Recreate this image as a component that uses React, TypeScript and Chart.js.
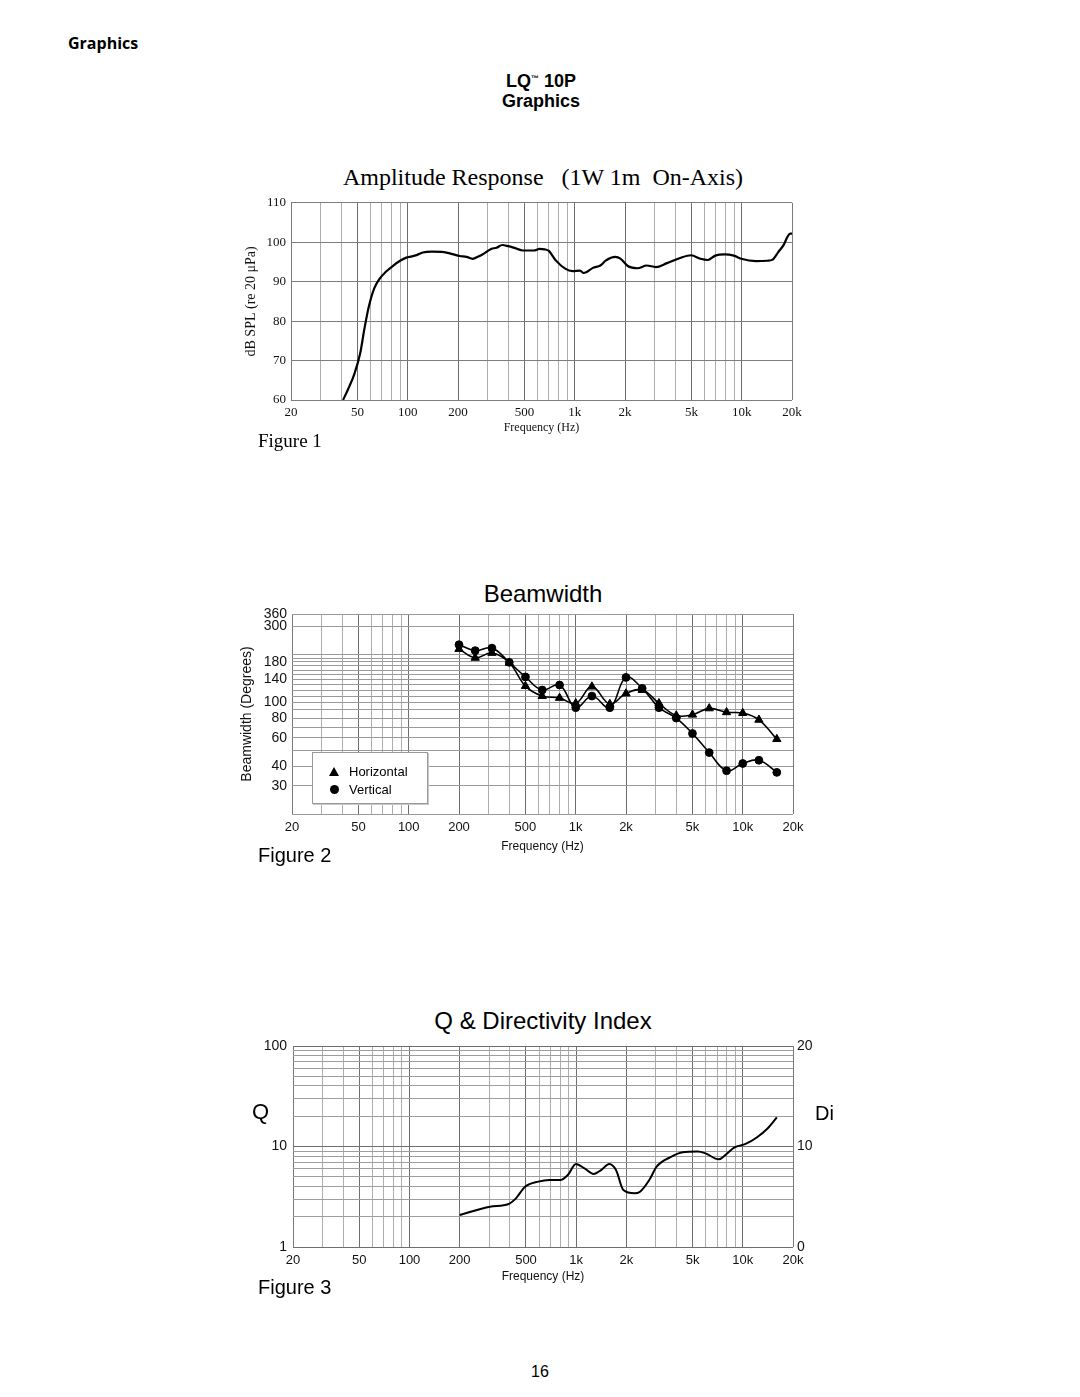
import React, { useEffect, useRef } from "react";
import { Chart, registerables } from "chart.js";

Chart.register(...registerables);

// ---------- shared frequency axis ----------
const freqTickValues = [20, 50, 100, 200, 500, 1000, 2000, 5000, 10000, 20000];
const freqTickLabels = ["20", "50", "100", "200", "500", "1k", "2k", "5k", "10k", "20k"];
const freqGridValues: number[] = [];
for (const d of [10, 100, 1000, 10000]) {
  for (let m = 1; m <= 9; m++) {
    const v = d * m;
    if (v >= 20 && v <= 20000) freqGridValues.push(v);
  }
}

// ---------- Figure 1: amplitude response ----------
const ampFreq = [41, 44, 48, 52, 55, 58.5, 63, 68, 74, 82, 90, 98, 106, 114, 123, 140, 165, 185, 205, 225, 245, 265, 280, 316, 340, 368, 400, 440, 490, 570, 615, 660, 700, 770, 877, 971, 1076, 1130, 1161, 1286, 1424, 1538, 1747, 1886, 2090, 2374, 2698, 3064, 3570, 4272, 4980, 5660, 6266, 6940, 7890, 8960, 9930, 12180, 14200, 15320, 16550, 17870, 18800, 19500, 20000];
const ampSpl = [60, 62.8, 66.7, 72, 78, 83.7, 88.3, 90.8, 92.5, 94.1, 95.3, 96.1, 96.4, 96.8, 97.4, 97.6, 97.5, 97, 96.5, 96.3, 95.8, 96.4, 96.9, 98.3, 98.6, 99.3, 99, 98.5, 97.9, 97.9, 98.3, 98.2, 97.8, 95.4, 93.3, 92.7, 92.8, 92.2, 92.3, 93.5, 94.1, 95.4, 96.3, 95.8, 93.9, 93.4, 94.1, 93.7, 94.7, 96, 96.7, 95.8, 95.5, 96.6, 96.9, 96.6, 95.8, 95.2, 95.3, 95.6, 97.5, 99.4, 101.4, 102.2, 102.2];
const splMin = 60;
const splMax = 110;

// ---------- Figure 2: beamwidth ----------
const bwFreq = [200, 250, 315, 400, 500, 630, 800, 1000, 1250, 1600, 2000, 2500, 3150, 4000, 5000, 6300, 8000, 10000, 12500, 16000];
const bwHorizontal = [217, 191, 205, 178, 127, 110, 107, 99, 126, 98, 114, 120, 99, 83, 84, 92, 87, 86, 78, 59];
const bwVertical = [231, 212, 220, 179, 145, 120, 129, 93, 110, 93, 144, 123, 93, 80, 64, 48.6, 37.4, 41.5, 43.5, 36.5];
const bwGridValues = [20, 30, 40, 50, 60, 70, 80, 90, 100, 110, 120, 130, 140, 150, 160, 170, 180, 190, 200, 300, 360];
const bwTickLabels = [360, 300, 180, 140, 100, 80, 60, 40, 30];

// ---------- Figure 3: Q & Di ----------
const qFreq = [200, 304, 393, 435, 494, 592, 690, 804, 891, 997, 1122, 1274, 1412, 1580, 1734, 1920, 2240, 2417, 2746, 3040, 3733, 4353, 5346, 5920, 7190, 7840, 8910, 10390, 12120, 14120, 16000];
const qValues = [2.08, 2.52, 2.68, 3.05, 3.98, 4.47, 4.64, 4.64, 5.2, 6.7, 6.06, 5.33, 5.83, 6.7, 5.83, 3.69, 3.42, 3.55, 4.64, 6.3, 7.93, 8.76, 8.9, 8.6, 7.45, 8.2, 9.8, 10.6, 12.3, 15.2, 19.5];
const qGridValues = [1, 2, 3, 4, 5, 6, 7, 8, 9, 10, 20, 30, 40, 50, 60, 70, 80, 90, 100];
const qTickLabels = [1, 10, 100];
const diMin = 0;
const diMax = 20;

const SERIF = '"Liberation Serif", "Times New Roman", serif';
const SANS = '"Liberation Sans", Arial, Helvetica, sans-serif';

function freqGridColor(v: number | undefined): string {
  if (v === undefined) return "#999";
  if (v === 20 || v === 20000) return "#7a7a7a";
  const m = Math.round(v / Math.pow(10, Math.floor(Math.log10(v) + 1e-9)));
  return m === 1 || m === 2 || m === 5 ? "#6e6e6e" : "#adadad";
}

function freqAxis(o: { font: any; padding: number; height: number; titleFont: any; titlePad: number }) {
  return {
    type: "logarithmic",
    position: "bottom",
    min: 20,
    max: 20000,
    afterBuildTicks: (s: any) => {
      s.ticks = freqGridValues.map((v) => ({ value: v }));
    },
    afterFit: (s: any) => {
      s.height = o.height;
    },
    ticks: {
      autoSkip: false,
      maxRotation: 0,
      minRotation: 0,
      padding: o.padding,
      color: "#111",
      font: o.font,
      callback: (v: any) => {
        const i = freqTickValues.indexOf(Number(v));
        return i >= 0 ? freqTickLabels[i] : "";
      },
    },
    grid: { drawTicks: false, color: (c: any) => freqGridColor(c.tick?.value), lineWidth: 1 },
    border: { display: false },
    title: { display: true, text: "Frequency (Hz)", color: "#111", font: o.titleFont, padding: { top: 0, bottom: o.titlePad } },
  };
}

function ChartCanvas({ left, top, width, height, make }: { left: number; top: number; width: number; height: number; make: () => any }) {
  const ref = useRef<HTMLCanvasElement | null>(null);
  useEffect(() => {
    const chart = new Chart(ref.current as HTMLCanvasElement, make());
    return () => chart.destroy();
  }, []);
  return (
    <canvas
      ref={ref}
      width={width}
      height={height}
      style={{ position: "absolute", left, top, width, height }}
    />
  );
}

const baseOptions = {
  responsive: false,
  animation: false,
  devicePixelRatio: 1,
  events: [],
  plugins: { legend: { display: false }, tooltip: { enabled: false }, title: { display: false } },
};

function makeAmplitude() {
  return {
    type: "line",
    data: {
      datasets: [
        {
          data: ampFreq.map((f, i) => ({ x: f, y: ampSpl[i] })),
          borderColor: "#000",
          borderWidth: 2.2,
          pointRadius: 0,
          cubicInterpolationMode: "monotone",
          fill: false,
        },
      ],
    },
    options: {
      ...baseOptions,
      layout: { autoPadding: false, padding: { left: 0, top: 11, right: 33, bottom: 0 } },
      scales: {
        x: freqAxis({
          font: { family: SERIF, size: 13 },
          padding: 5,
          height: 40,
          titleFont: { family: SERIF, size: 12 },
          titlePad: 4.8,
        }),
        y: {
          type: "linear",
          position: "left",
          min: splMin,
          max: splMax,
          afterFit: (s: any) => {
            s.width = 66;
          },
          ticks: { stepSize: 10, padding: 5, color: "#111", font: { family: SERIF, size: 13 } },
          grid: { drawTicks: false, color: "#7d7d7d", lineWidth: 1 },
          border: { display: false },
          title: {
            display: true,
            text: "dB SPL (re 20 \u03BCPa)",
            color: "#111",
            font: { family: SERIF, size: 14 },
            padding: { top: 18, bottom: 0 },
          },
        },
      },
    },
  };
}

function makeBeamwidth() {
  return {
    type: "line",
    data: {
      datasets: [
        {
          label: "Horizontal",
          data: bwFreq.map((f, i) => ({ x: f, y: bwHorizontal[i] })),
          borderColor: "#000",
          backgroundColor: "#000",
          borderWidth: 1.6,
          pointStyle: "triangle",
          pointRadius: 4.8,
          pointBorderWidth: 1,
          tension: 0.4,
          fill: false,
        },
        {
          label: "Vertical",
          data: bwFreq.map((f, i) => ({ x: f, y: bwVertical[i] })),
          borderColor: "#000",
          backgroundColor: "#000",
          borderWidth: 1.6,
          pointStyle: "circle",
          pointRadius: 3.9,
          pointBorderWidth: 1,
          tension: 0.4,
          fill: false,
        },
      ],
    },
    options: {
      ...baseOptions,
      layout: { autoPadding: false, padding: { left: 0, top: 14, right: 32, bottom: 0 } },
      scales: {
        x: freqAxis({
          font: { family: SANS, size: 13 },
          padding: 5.5,
          height: 41,
          titleFont: { family: SANS, size: 12 },
          titlePad: 1.5,
        }),
        y: {
          type: "logarithmic",
          position: "left",
          min: 20,
          max: 360,
          afterBuildTicks: (s: any) => {
            s.ticks = bwGridValues.map((v) => ({ value: v }));
          },
          afterFit: (s: any) => {
            s.width = 67;
          },
          ticks: {
            autoSkip: false,
            padding: 5,
            color: "#111",
            font: { family: SANS, size: 14 },
            callback: (v: any) => (bwTickLabels.indexOf(Number(v)) >= 0 ? String(v) : ""),
          },
          grid: { drawTicks: false, color: "#9a9a9a", lineWidth: 1 },
          border: { display: false },
          title: {
            display: true,
            text: "Beamwidth (Degrees)",
            color: "#111",
            font: { family: SANS, size: 14 },
            padding: { top: 13.5, bottom: 0 },
          },
        },
      },
    },
  };
}

function makeQ() {
  return {
    type: "line",
    data: {
      datasets: [
        {
          data: qFreq.map((f, i) => ({ x: f, y: qValues[i] })),
          borderColor: "#000",
          borderWidth: 2,
          pointRadius: 0,
          cubicInterpolationMode: "monotone",
          fill: false,
          yAxisID: "y",
        },
      ],
    },
    options: {
      ...baseOptions,
      layout: { autoPadding: false, padding: { left: 0, top: 16, right: 22, bottom: 0 } },
      scales: {
        x: freqAxis({
          font: { family: SANS, size: 13 },
          padding: 5.2,
          height: 38,
          titleFont: { family: SANS, size: 12 },
          titlePad: 0.8,
        }),
        y: {
          type: "logarithmic",
          position: "left",
          min: 1,
          max: 100,
          afterBuildTicks: (s: any) => {
            s.ticks = qGridValues.map((v) => ({ value: v }));
          },
          afterFit: (s: any) => {
            s.width = 68;
          },
          ticks: {
            autoSkip: false,
            padding: 6,
            color: "#111",
            font: { family: SANS, size: 14 },
            callback: (v: any) => (qTickLabels.indexOf(Number(v)) >= 0 ? String(v) : ""),
          },
          grid: {
            drawTicks: false,
            color: (c: any) => (c.tick && (c.tick.value === 10 || c.tick.value === 1 || c.tick.value === 100) ? "#6e6e6e" : "#9d9d9d"),
            lineWidth: 1,
          },
          border: { display: false },
        },
        y2: {
          type: "linear",
          position: "right",
          min: diMin,
          max: diMax,
          afterFit: (s: any) => {
            s.width = 30;
          },
          ticks: { stepSize: 10, padding: 4, color: "#111", font: { family: SANS, size: 14 } },
          grid: { display: false, drawTicks: false },
          border: { display: false },
        },
      },
    },
  };
}

function Txt({ x, y, size, family, weight, align, children }: any) {
  const a = align || "left";
  const w = 700;
  const left = a === "center" ? x - w / 2 : x;
  return (
    <div
      style={{
        position: "absolute",
        left,
        top: y - size / 2,
        width: w,
        textAlign: a,
        fontFamily: family,
        fontWeight: weight || 400,
        fontSize: size,
        lineHeight: `${size}px`,
        whiteSpace: "pre",
        color: "#000",
      }}
    >
      {children}
    </div>
  );
}

export default function App() {
  return (
    <div style={{ position: "absolute", left: 0, top: 0, width: 1080, height: 1397, background: "#fff", overflow: "hidden" }}>
      <Txt x={68} y={43} size={16} family='"Open Sans", sans-serif' weight={700}>Graphics</Txt>
      <Txt x={541} y={81} size={18} family={SANS} weight={700} align="center">
        LQ<span style={{ fontSize: 8, position: "relative", top: -6 }}>™</span> 10P
      </Txt>
      <Txt x={541} y={101} size={18} family={SANS} weight={700} align="center">Graphics</Txt>

      <Txt x={543} y={177} size={24} family={SERIF} align="center">{"Amplitude Response   (1W 1m  On-Axis)"}</Txt>
      <ChartCanvas left={225} top={190} width={600} height={250} make={makeAmplitude} />
      <Txt x={258} y={440} size={19} family={SERIF}>Figure 1</Txt>

      <Txt x={543} y={594} size={24} family={SANS} align="center">Beamwidth</Txt>
      <ChartCanvas left={225} top={600} width={600} height={255} make={makeBeamwidth} />
      <div
        style={{
          position: "absolute",
          left: 312,
          top: 752,
          width: 114,
          height: 50,
          border: "1px solid #999",
          boxShadow: "1px 1px 0 #c8c8c8",
          background: "#fff",
          fontFamily: SANS,
          fontSize: 13,
          color: "#000",
        }}
      >
        <div style={{ position: "absolute", left: 16, top: 14, width: 0, height: 0, borderLeft: "5px solid transparent", borderRight: "5px solid transparent", borderBottom: "9px solid #000" }} />
        <div style={{ position: "absolute", left: 36, top: 11, lineHeight: "15px" }}>Horizontal</div>
        <div style={{ position: "absolute", left: 16.5, top: 32, width: 9, height: 9, borderRadius: "50%", background: "#000" }} />
        <div style={{ position: "absolute", left: 36, top: 29, lineHeight: "15px" }}>Vertical</div>
      </div>
      <Txt x={258} y={855} size={20} family={SANS}>Figure 2</Txt>

      <Txt x={543} y={1021} size={24} family={SANS} align="center">Q &amp; Directivity Index</Txt>
      <ChartCanvas left={225} top={1030} width={620} height={255} make={makeQ} />
      <Txt x={252} y={1112} size={22} family={SANS}>Q</Txt>
      <Txt x={815} y={1113} size={20} family={SANS}>Di</Txt>
      <Txt x={258} y={1287} size={20} family={SANS}>Figure 3</Txt>

      <Txt x={540} y={1372} size={16} family={SANS} align="center">16</Txt>
    </div>
  );
}
